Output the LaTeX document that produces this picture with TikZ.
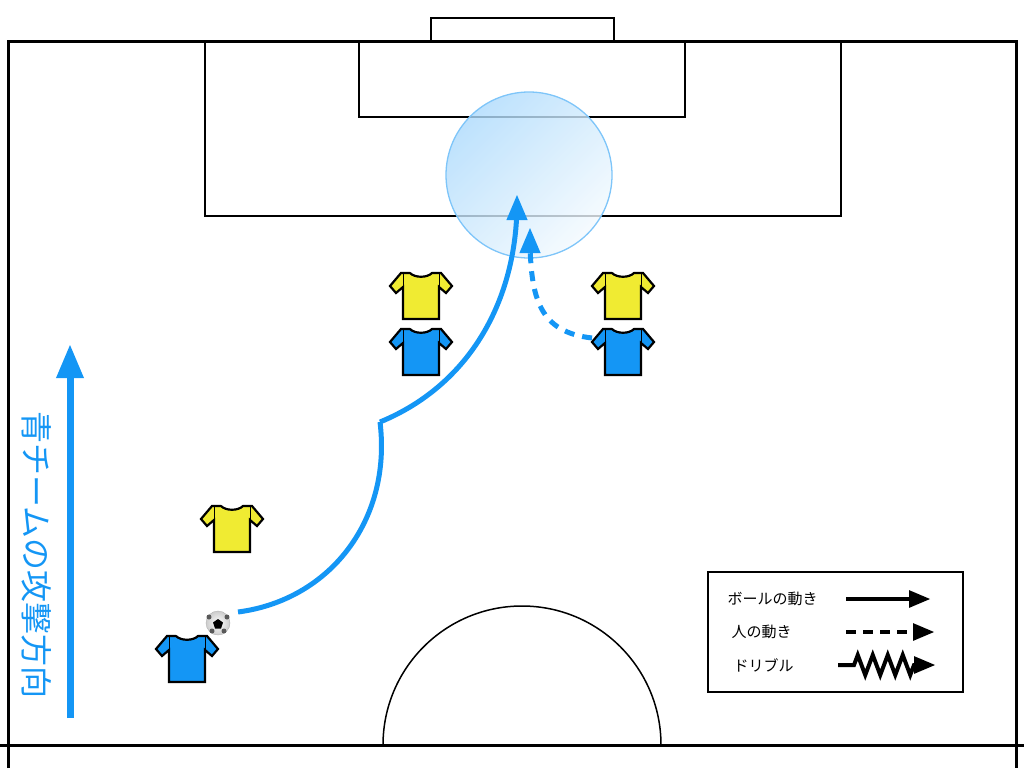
\documentclass[tikz,border=0pt]{standalone}
\usepackage{fontspec}
\setmainfont{Noto Sans CJK JP}
\usepackage{tikz}
\usetikzlibrary{arrows, decorations.pathmorphing, positioning}
\definecolor{teamblue}{HTML}{1496F5}
\definecolor{teamyellow}{HTML}{F0EB32}
\newcommand{\drawe}{\draw[line width=1.5pt]}
\tikzset{
  shirt/.pic={
    \draw[line width=2.2pt, fill=#1, line join=miter]
      (-11,-22) -- (-20,-22) -- (-31,-9) -- (-25,-2) -- (-18,-8) -- (-18,24)
      -- (18,24) -- (18,-8) -- (25,-2) -- (31,-9) -- (20,-22) -- (11,-22)
      .. controls (6,-17) and (-6,-17) .. (-11,-22);
    \draw[line width=1pt] (-18,-22) -- (-18,-8) (18,-22) -- (18,-8);
  },
  legendtext/.style={anchor=west, font=\fontsize{15}{17}\selectfont},
  legendarrow/.style={line width=4pt, ->}
}
\begin{document}
\begin{tikzpicture}[x=1pt, y=-1pt, >=triangle 45]
\useasboundingbox (0,0) rectangle (1024,768);
% Pitch
\draw[line width=3pt] (8,768) -- (8,42) -- (1016,42) -- (1016,768);
\draw[line width=3pt] (0,745) -- (1024,745);
\drawe (431,42) -- (431,18) -- (614,18) -- (614,42);
\drawe (205,42) -- (205,216) -- (841,216) -- (841,42);
\drawe (359,42) -- (359,117) -- (685,117) -- (685,42);
\begin{scope}
\clip (0,0) rectangle (1024,745);
\drawe (522,745) circle (139);
\end{scope}
% Target zone
\shade[top color=teamblue!35, bottom color=teamblue!5, shading angle=45, opacity=0.8]
  (529,175) circle (83);
\draw[teamblue!55, line width=1.3pt] (529,175) circle (83);
% Players
\pic at (232,528) {shirt=teamyellow};
\pic at (421,295) {shirt=teamyellow};
\pic at (623,295) {shirt=teamyellow};
\pic at (187,658) {shirt=teamblue};
\pic at (421,351) {shirt=teamblue};
\pic at (623,351) {shirt=teamblue};
% Ball
\node[circle, draw=gray!60, inner color=white, outer color=gray!40, minimum size=24pt, inner sep=0pt] (ball) at (218,623) {};
\fill (218,624) ++(0,-5) -- ++(5,3.5) -- ++(-2,6) -- ++(-6,0) -- ++(-2,-6) -- cycle;
\fill[gray!70!black] (209,617) circle (2.5) (227,617) circle (2.5) (212,631) circle (2.5) (224,631) circle (2.5);
% Pass and run
\coordinate (kick) at (238,612);
\coordinate (bend) at (380,422);
\coordinate (shot) at (517,195);
\coordinate (runner) at (592,338);
\coordinate (runend) at (530,228);
\draw[teamblue, line width=5pt] (kick) .. controls (330,600) and (392,520) .. (bend);
\draw[teamblue, line width=5pt, ->] (bend) .. controls (470,385) and (517,300) .. (shot);
\draw[teamblue, line width=5pt, dash pattern=on 10pt off 8pt, ->]
  (runner) .. controls (540,332) and (530,300) .. (runend);
% Attack direction
\coordinate (dirlow) at (70,718);
\coordinate (dirhigh) at (70,345);
\draw[teamblue, line width=7pt, ->] (dirlow) -- (dirhigh);
\node[rotate=-90, text=teamblue, font=\fontsize{32}{34}\selectfont] (dirtext) at (37,555) {青チームの攻撃方向};
% Legend
\draw[line width=2pt] (708,572) rectangle (963,692);
\node[legendtext] (lball) at (724,599) {ボールの動き};
\node[legendtext] (lman) at (728,632) {人の動き};
\node[legendtext] (ldrib) at (730,665) {ドリブル};
\draw[legendarrow] (846,599) -- (930,599);
\draw[legendarrow, dash pattern=on 10pt off 7pt] (846,632) -- (934,632);
\draw[legendarrow] (838,665) -- (854,665)
  decorate[decoration={zigzag, segment length=15pt, amplitude=10pt}] {-- (914,665)} -- (935,665);
\end{tikzpicture}
\end{document}
